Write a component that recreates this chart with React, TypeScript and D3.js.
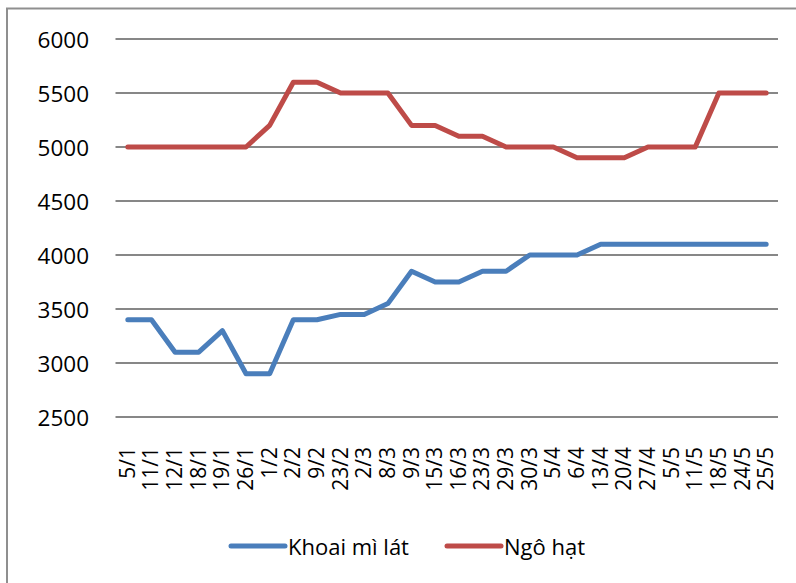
import React from "react";
import * as d3 from "d3";

const categories = ["5/1","11/1","12/1","18/1","19/1","26/1","1/2","2/2","9/2","23/2","2/3","8/3","9/3","15/3","16/3","23/3","29/3","30/3","5/4","6/4","13/4","20/4","27/4","5/5","11/5","18/5","24/5","25/5"];
const khoaiMi = [3400,3400,3100,3100,3300,2900,2900,3400,3400,3450,3450,3550,3850,3750,3750,3850,3850,4000,4000,4000,4100,4100,4100,4100,4100,4100,4100,4100];
const ngoHat = [5000,5000,5000,5000,5000,5000,5200,5600,5600,5500,5500,5500,5200,5200,5100,5100,5000,5000,5000,4900,4900,4900,5000,5000,5000,5500,5500,5500];
const yTicks = [2500,3000,3500,4000,4500,5000,5500,6000];
const seriesNames = ["Khoai mì lát", "Ngô hạt"];
const colors = ["#4a7ebb", "#be4b48"];

const W = 796, H = 583;
const FONT = "'Open Sans', 'Noto Sans', sans-serif";

export default function App() {
  const x = d3.scalePoint<string>().domain(categories).range([116, 778]).padding(0.5);
  const y = d3.scaleLinear().domain([2500, 6000]).range([417, 39]);
  const line = d3.line<number>().x((_, i) => x(categories[i])!).y(d => y(d));
  const series = [khoaiMi, ngoHat];
  return (
    <svg width={W} height={H} style={{ position: "absolute", left: 0, top: 0, background: "#fff" }} fontFamily={FONT}>
      <rect x={0} y={0} width={W} height={H} fill="#fff" />
      <rect x={7} y={8.5} width={900} height={700} fill="none" stroke="#8f8f8f" strokeWidth={2} />
      {yTicks.map(t => (
        <g key={t}>
          <line x1={115.5} x2={778} y1={y(t)} y2={y(t)} stroke="#878787" strokeWidth={2} />
          <text x={89} y={y(t)} textAnchor="end" dominantBaseline="central" fontSize={22.5} fill="#000">{t}</text>
        </g>
      ))}
      {categories.map(c => (
        <text key={c} transform={`translate(${x(c)! - 1},447) rotate(-90)`} textAnchor="end" dominantBaseline="central" fontSize={21} fill="#000">{c}</text>
      ))}
      {series.map((s, i) => (
        <path key={i} d={line(s)!} fill="none" stroke={colors[i]} strokeWidth={5} strokeLinejoin="round" strokeLinecap="round" />
      ))}
      {seriesNames.map((n, i) => {
        const lx = i === 0 ? 231 : 447;
        return (
          <g key={n}>
            <line x1={lx} x2={lx + 54} y1={546} y2={546} stroke={colors[i]} strokeWidth={5} strokeLinecap="round" />
            <text x={lx + 57} y={546} dominantBaseline="central" fontSize={22} fill="#000">{n}</text>
          </g>
        );
      })}
    </svg>
  );
}
